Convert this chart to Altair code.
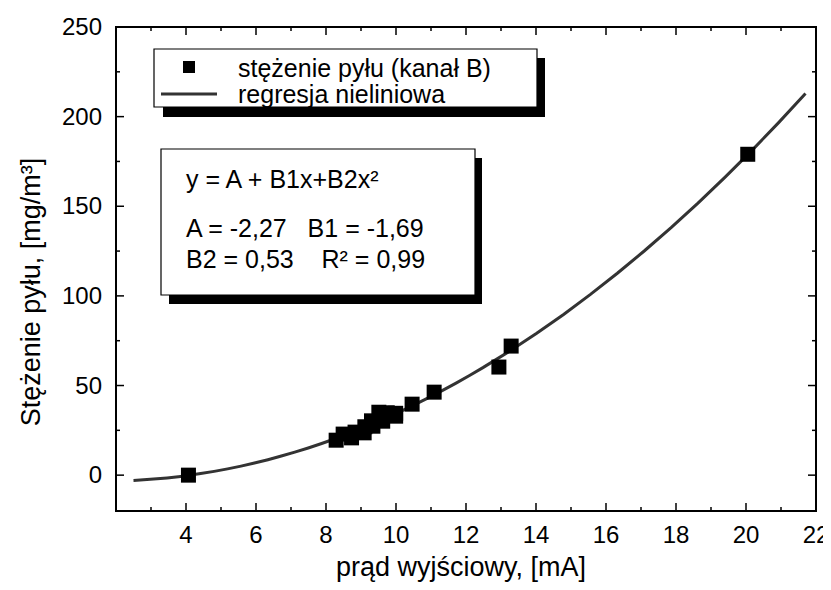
import altair as alt
import pandas as pd

# ---- data ----
x_ma = [4.07, 8.29, 8.49, 8.73, 8.83, 9.09, 9.11, 9.30, 9.34, 9.51, 9.62, 9.75,
        9.99, 9.99, 10.46, 11.09, 12.94, 13.29, 20.05]
y_mg = [0.0, 19.5, 22.9, 20.8, 24.0, 23.6, 27.0, 30.3, 27.3, 35.1, 30.1, 34.8,
        32.9, 34.5, 39.6, 46.3, 60.3, 72.0, 179.0]

x_major = [4, 6, 8, 10, 12, 14, 16, 18, 20, 22]
x_minor = [3, 5, 7, 9, 11, 13, 15, 17, 19, 21]
y_major = [0, 50, 100, 150, 200, 250]
y_minor = [25, 75, 125, 175, 225]
x_domain = [2, 22]
y_domain = [-20, 250]
fit_extent = [2.5, 21.7]

x_title = "prąd wyjściowy, [mA]"
y_title = "Stężenie pyłu, [mg/m³]"
legend_labels = ["stężenie pyłu (kanał B)", "regresja nieliniowa"]
NB = "\u00a0"
eq_lines = ["y = A + B1x+B2x²",
            "A = -2,27" + NB * 3 + "B1 = -1,69",
            "B2 = 0,53" + NB * 4 + "R² = 0,99"]

FONT = "Liberation Sans"
W, H = 700, 484
MAJ, MIN = 8, 4

df = pd.DataFrame({"x": x_ma, "y": y_mg})
one = pd.DataFrame({"k": [0]})

xs = alt.Scale(domain=x_domain, nice=False, zero=False)
ys = alt.Scale(domain=y_domain, nice=False, zero=False)


def xticks(vals, side, length):
    ypos = H - length / 2 if side == "bottom" else length / 2
    d = pd.DataFrame({"xt": vals, "side": [side + str(length)] * len(vals)})
    return alt.Chart(d).mark_tick(
        color="black", thickness=1.5, size=length, orient="vertical",
        opacity=1).encode(
        x=alt.X("xt:Q", scale=xs, axis=None), y=alt.value(ypos))


def yticks(vals, side, length):
    xpos = length / 2 if side == "left" else W - length / 2
    d = pd.DataFrame({"yt": vals, "side": [side + str(length)] * len(vals)})
    return alt.Chart(d).mark_tick(
        color="black", thickness=1.5, size=length, orient="horizontal",
        opacity=1).encode(
        y=alt.Y("yt:Q", scale=ys, axis=None), x=alt.value(xpos))


ticks = [
    xticks(x_major, "bottom", MAJ), xticks(x_minor, "bottom", MIN),
    xticks(x_major, "top", MAJ), xticks(x_minor, "top", MIN),
    yticks(y_major, "left", MAJ), yticks(y_minor, "left", MIN),
    yticks(y_major, "right", MAJ), yticks(y_minor, "right", MIN),
]

# tick labels drawn through the same scales
x_lab = alt.Chart(pd.DataFrame({"xl": x_major})).mark_text(
    font=FONT, fontSize=24, align="center", baseline="alphabetic",
    color="black").encode(
    x=alt.X("xl:Q", scale=xs, axis=None), y=alt.value(H + 32), text="xl:Q")
y_lab = alt.Chart(pd.DataFrame({"yl": y_major})).mark_text(
    font=FONT, fontSize=24, align="right", baseline="middle", dy=1,
    color="black").encode(
    y=alt.Y("yl:Q", scale=ys, axis=None), x=alt.value(-14), text="yl:Q")

x_tit = alt.Chart(pd.DataFrame({"t": [x_title]})).mark_text(
    font=FONT, fontSize=27, align="center", baseline="alphabetic",
    color="black").encode(text="t:N", x=alt.value(345), y=alt.value(H + 65))
y_tit = alt.Chart(pd.DataFrame({"t": [y_title]})).mark_text(
    font=FONT, fontSize=27, align="center", baseline="alphabetic", angle=270,
    color="black").encode(text="t:N", x=alt.value(-76), y=alt.value(265))


def rect(x, x2, y, y2, fill, stroke=None):
    kw = dict(fill=fill)
    if stroke:
        kw.update(stroke=stroke, strokeWidth=1.2)
    return alt.Chart(one).mark_rect(**kw).encode(
        x=alt.value(x), x2=alt.value(x2), y=alt.value(y), y2=alt.value(y2))


def label(txt, x, y, size=25):
    return alt.Chart(pd.DataFrame({"t": [txt]})).mark_text(
        font=FONT, fontSize=size, align="left", baseline="alphabetic",
        color="black").encode(text="t:N", x=alt.value(x), y=alt.value(y))


# legend box
leg_shadow = rect(47, 429, 31, 90, "black")
leg_box = rect(38, 421, 22, 80, "white", "black")
leg_sq = alt.Chart(one).mark_square(size=144, color="black", opacity=1).encode(
    x=alt.value(73), y=alt.value(40))
leg_line = alt.Chart(one).mark_rule(color="#333333", strokeWidth=3).encode(
    x=alt.value(45), x2=alt.value(101), y=alt.value(67))
leg_t1 = label(legend_labels[0], 122, 50)
leg_t2 = label(legend_labels[1], 122, 76)

# equation box
eq_shadow = rect(53, 366, 131, 277, "black")
eq_box = rect(45, 359, 122, 268, "white", "black")
eq_t1 = label(eq_lines[0], 70, 161)
eq_t2 = label(eq_lines[1], 70, 210)
eq_t3 = label(eq_lines[2], 70, 241)

curve = alt.Chart(df).transform_regression(
    "x", "y", method="poly", order=2, extent=fit_extent
).mark_line(color="#333333", strokeWidth=3).encode(
    x=alt.X("x:Q", scale=xs, axis=None),
    y=alt.Y("y:Q", scale=ys, axis=None),
)
points = alt.Chart(df).mark_square(size=225, color="black", opacity=1).encode(
    x=alt.X("x:Q", scale=xs, axis=None),
    y=alt.Y("y:Q", scale=ys, axis=None),
)

chart = alt.layer(
    leg_shadow, leg_box, leg_sq, leg_line, leg_t1, leg_t2,
    eq_shadow, eq_box, eq_t1, eq_t2, eq_t3,
    curve, points, x_lab, y_lab, x_tit, y_tit, *ticks,
).properties(
    width=W, height=H,
    autosize=alt.AutoSizeParams(type="none"),
    padding={"left": 108, "top": 19, "right": 7, "bottom": 71},
    background="white",
).configure_view(stroke="black", strokeWidth=2)

chart.save("out.html", embed_options={"renderer": "svg", "actions": False})
